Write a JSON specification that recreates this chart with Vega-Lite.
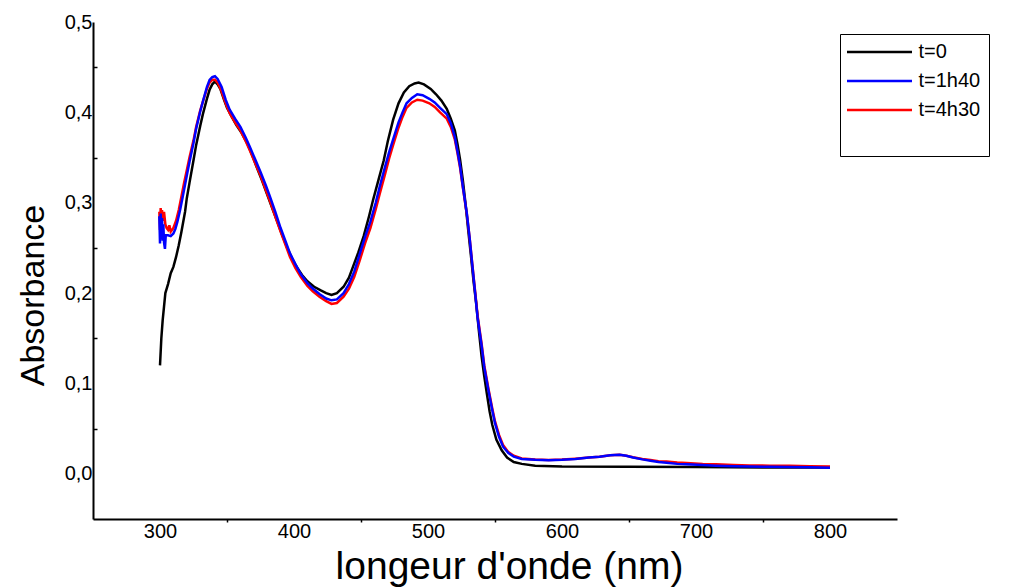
{
  "$schema": "https://vega.github.io/schema/vega-lite/v6.json",
  "width": 804,
  "height": 497,
  "autosize": {"type": "none"},
  "padding": {"left": 93, "top": 22, "right": 114, "bottom": 68},
  "background": "white",
  "config": {
    "view": {"stroke": null},
    "font": "Liberation Sans",
    "axis": {"grid": false, "domainColor": "black", "domainWidth": 2, "labelColor": "black", "titleColor": "black", "labelFont": "Liberation Sans", "titleFont": "Liberation Sans", "titleFontWeight": "normal", "tickColor": "black"}
  },
  "data": {"values": [
    {"l":300,"a":0.120,"s":"t=0"},{"l":301,"a":0.150,"s":"t=0"},{"l":302,"a":0.170,"s":"t=0"},{"l":303,"a":0.185,"s":"t=0"},{"l":304,"a":0.200,"s":"t=0"},{"l":305,"a":0.205,"s":"t=0"},{"l":306,"a":0.210,"s":"t=0"},{"l":308,"a":0.222,"s":"t=0"},{"l":310,"a":0.229,"s":"t=0"},{"l":312,"a":0.240,"s":"t=0"},{"l":314,"a":0.253,"s":"t=0"},{"l":316,"a":0.268,"s":"t=0"},{"l":318.7,"a":0.290,"s":"t=0"},{"l":320,"a":0.305,"s":"t=0"},{"l":322,"a":0.322,"s":"t=0"},{"l":325,"a":0.347,"s":"t=0"},{"l":327,"a":0.364,"s":"t=0"},{"l":330,"a":0.385,"s":"t=0"},{"l":332,"a":0.398,"s":"t=0"},{"l":335,"a":0.415,"s":"t=0"},{"l":337,"a":0.425,"s":"t=0"},{"l":339,"a":0.431,"s":"t=0"},{"l":341,"a":0.434,"s":"t=0"},{"l":343,"a":0.431,"s":"t=0"},{"l":345,"a":0.426,"s":"t=0"},{"l":348,"a":0.413,"s":"t=0"},{"l":350,"a":0.405,"s":"t=0"},{"l":354,"a":0.394,"s":"t=0"},{"l":357,"a":0.386,"s":"t=0"},{"l":361,"a":0.377,"s":"t=0"},{"l":365,"a":0.366,"s":"t=0"},{"l":369,"a":0.352,"s":"t=0"},{"l":372,"a":0.340,"s":"t=0"},{"l":376,"a":0.325,"s":"t=0"},{"l":380,"a":0.309,"s":"t=0"},{"l":384,"a":0.293,"s":"t=0"},{"l":387,"a":0.281,"s":"t=0"},{"l":391,"a":0.265,"s":"t=0"},{"l":395,"a":0.250,"s":"t=0"},{"l":399,"a":0.237,"s":"t=0"},{"l":402,"a":0.229,"s":"t=0"},{"l":406,"a":0.220,"s":"t=0"},{"l":410,"a":0.213,"s":"t=0"},{"l":415,"a":0.207,"s":"t=0"},{"l":420,"a":0.203,"s":"t=0"},{"l":424,"a":0.200,"s":"t=0"},{"l":428,"a":0.198,"s":"t=0"},{"l":432,"a":0.200,"s":"t=0"},{"l":437,"a":0.207,"s":"t=0"},{"l":441,"a":0.217,"s":"t=0"},{"l":444,"a":0.229,"s":"t=0"},{"l":448,"a":0.245,"s":"t=0"},{"l":452,"a":0.263,"s":"t=0"},{"l":456,"a":0.285,"s":"t=0"},{"l":459,"a":0.303,"s":"t=0"},{"l":463,"a":0.325,"s":"t=0"},{"l":467,"a":0.347,"s":"t=0"},{"l":470,"a":0.368,"s":"t=0"},{"l":474,"a":0.392,"s":"t=0"},{"l":478,"a":0.410,"s":"t=0"},{"l":482,"a":0.422,"s":"t=0"},{"l":486,"a":0.429,"s":"t=0"},{"l":490,"a":0.432,"s":"t=0"},{"l":493,"a":0.433,"s":"t=0"},{"l":497,"a":0.431,"s":"t=0"},{"l":502,"a":0.426,"s":"t=0"},{"l":506,"a":0.420,"s":"t=0"},{"l":510,"a":0.413,"s":"t=0"},{"l":514,"a":0.404,"s":"t=0"},{"l":517,"a":0.393,"s":"t=0"},{"l":520,"a":0.380,"s":"t=0"},{"l":522,"a":0.365,"s":"t=0"},{"l":524,"a":0.347,"s":"t=0"},{"l":526,"a":0.325,"s":"t=0"},{"l":528,"a":0.299,"s":"t=0"},{"l":530,"a":0.270,"s":"t=0"},{"l":532,"a":0.242,"s":"t=0"},{"l":534,"a":0.213,"s":"t=0"},{"l":536,"a":0.188,"s":"t=0"},{"l":538,"a":0.158,"s":"t=0"},{"l":540,"a":0.130,"s":"t=0"},{"l":542,"a":0.108,"s":"t=0"},{"l":544,"a":0.088,"s":"t=0"},{"l":546,"a":0.069,"s":"t=0"},{"l":548,"a":0.054,"s":"t=0"},{"l":551,"a":0.038,"s":"t=0"},{"l":555,"a":0.026,"s":"t=0"},{"l":559,"a":0.018,"s":"t=0"},{"l":564,"a":0.013,"s":"t=0"},{"l":570,"a":0.011,"s":"t=0"},{"l":580,"a":0.009,"s":"t=0"},{"l":600,"a":0.008,"s":"t=0"},{"l":650,"a":0.0078,"s":"t=0"},{"l":700,"a":0.0075,"s":"t=0"},{"l":750,"a":0.007,"s":"t=0"},{"l":800,"a":0.007,"s":"t=0"},

    {"l":299.5,"a":0.290,"s":"t=4h30"},{"l":300,"a":0.270,"s":"t=4h30"},{"l":300.5,"a":0.294,"s":"t=4h30"},{"l":301,"a":0.275,"s":"t=4h30"},{"l":301.5,"a":0.292,"s":"t=4h30"},{"l":302,"a":0.280,"s":"t=4h30"},{"l":303,"a":0.290,"s":"t=4h30"},{"l":304,"a":0.276,"s":"t=4h30"},{"l":305,"a":0.272,"s":"t=4h30"},{"l":306,"a":0.270,"s":"t=4h30"},{"l":307,"a":0.275,"s":"t=4h30"},{"l":308,"a":0.268,"s":"t=4h30"},{"l":310,"a":0.272,"s":"t=4h30"},{"l":312,"a":0.280,"s":"t=4h30"},{"l":314,"a":0.292,"s":"t=4h30"},{"l":316,"a":0.307,"s":"t=4h30"},{"l":318,"a":0.322,"s":"t=4h30"},{"l":320,"a":0.336,"s":"t=4h30"},{"l":322,"a":0.350,"s":"t=4h30"},{"l":325,"a":0.369,"s":"t=4h30"},{"l":327,"a":0.384,"s":"t=4h30"},{"l":330,"a":0.402,"s":"t=4h30"},{"l":332,"a":0.412,"s":"t=4h30"},{"l":335,"a":0.426,"s":"t=4h30"},{"l":337,"a":0.433,"s":"t=4h30"},{"l":339,"a":0.436,"s":"t=4h30"},{"l":341,"a":0.436,"s":"t=4h30"},{"l":343,"a":0.433,"s":"t=4h30"},{"l":346,"a":0.423,"s":"t=4h30"},{"l":349,"a":0.410,"s":"t=4h30"},{"l":352,"a":0.399,"s":"t=4h30"},{"l":356,"a":0.389,"s":"t=4h30"},{"l":360,"a":0.380,"s":"t=4h30"},{"l":364,"a":0.368,"s":"t=4h30"},{"l":367,"a":0.358,"s":"t=4h30"},{"l":371,"a":0.344,"s":"t=4h30"},{"l":375,"a":0.330,"s":"t=4h30"},{"l":379,"a":0.314,"s":"t=4h30"},{"l":382,"a":0.302,"s":"t=4h30"},{"l":386,"a":0.285,"s":"t=4h30"},{"l":390,"a":0.268,"s":"t=4h30"},{"l":394,"a":0.252,"s":"t=4h30"},{"l":397,"a":0.240,"s":"t=4h30"},{"l":401,"a":0.228,"s":"t=4h30"},{"l":405,"a":0.218,"s":"t=4h30"},{"l":410,"a":0.208,"s":"t=4h30"},{"l":414,"a":0.202,"s":"t=4h30"},{"l":419,"a":0.196,"s":"t=4h30"},{"l":424,"a":0.191,"s":"t=4h30"},{"l":428,"a":0.188,"s":"t=4h30"},{"l":432,"a":0.189,"s":"t=4h30"},{"l":437,"a":0.196,"s":"t=4h30"},{"l":441,"a":0.205,"s":"t=4h30"},{"l":445,"a":0.218,"s":"t=4h30"},{"l":449,"a":0.236,"s":"t=4h30"},{"l":453,"a":0.255,"s":"t=4h30"},{"l":457,"a":0.272,"s":"t=4h30"},{"l":461,"a":0.293,"s":"t=4h30"},{"l":464,"a":0.310,"s":"t=4h30"},{"l":468,"a":0.332,"s":"t=4h30"},{"l":471,"a":0.349,"s":"t=4h30"},{"l":474,"a":0.364,"s":"t=4h30"},{"l":478,"a":0.383,"s":"t=4h30"},{"l":481,"a":0.395,"s":"t=4h30"},{"l":484,"a":0.405,"s":"t=4h30"},{"l":488,"a":0.411,"s":"t=4h30"},{"l":492,"a":0.414,"s":"t=4h30"},{"l":496,"a":0.413,"s":"t=4h30"},{"l":501,"a":0.410,"s":"t=4h30"},{"l":505,"a":0.406,"s":"t=4h30"},{"l":509,"a":0.400,"s":"t=4h30"},{"l":514,"a":0.393,"s":"t=4h30"},{"l":517,"a":0.384,"s":"t=4h30"},{"l":520,"a":0.370,"s":"t=4h30"},{"l":522,"a":0.355,"s":"t=4h30"},{"l":524,"a":0.338,"s":"t=4h30"},{"l":526,"a":0.317,"s":"t=4h30"},{"l":529,"a":0.287,"s":"t=4h30"},{"l":531,"a":0.262,"s":"t=4h30"},{"l":533,"a":0.233,"s":"t=4h30"},{"l":535,"a":0.204,"s":"t=4h30"},{"l":537,"a":0.175,"s":"t=4h30"},{"l":540,"a":0.144,"s":"t=4h30"},{"l":542,"a":0.120,"s":"t=4h30"},{"l":545,"a":0.095,"s":"t=4h30"},{"l":548,"a":0.072,"s":"t=4h30"},{"l":550,"a":0.058,"s":"t=4h30"},{"l":553,"a":0.043,"s":"t=4h30"},{"l":556,"a":0.032,"s":"t=4h30"},{"l":560,"a":0.024,"s":"t=4h30"},{"l":564,"a":0.020,"s":"t=4h30"},{"l":570,"a":0.017,"s":"t=4h30"},{"l":580,"a":0.0158,"s":"t=4h30"},{"l":590,"a":0.0152,"s":"t=4h30"},{"l":600,"a":0.0158,"s":"t=4h30"},{"l":610,"a":0.0168,"s":"t=4h30"},{"l":620,"a":0.018,"s":"t=4h30"},{"l":628,"a":0.019,"s":"t=4h30"},{"l":636,"a":0.0205,"s":"t=4h30"},{"l":643,"a":0.021,"s":"t=4h30"},{"l":648,"a":0.020,"s":"t=4h30"},{"l":653,"a":0.0183,"s":"t=4h30"},{"l":660,"a":0.0165,"s":"t=4h30"},{"l":666,"a":0.0152,"s":"t=4h30"},{"l":672,"a":0.014,"s":"t=4h30"},{"l":678,"a":0.0135,"s":"t=4h30"},{"l":686,"a":0.0125,"s":"t=4h30"},{"l":693,"a":0.012,"s":"t=4h30"},{"l":705,"a":0.011,"s":"t=4h30"},{"l":715,"a":0.0105,"s":"t=4h30"},{"l":728,"a":0.0098,"s":"t=4h30"},{"l":740,"a":0.0093,"s":"t=4h30"},{"l":755,"a":0.009,"s":"t=4h30"},{"l":770,"a":0.0088,"s":"t=4h30"},{"l":785,"a":0.0085,"s":"t=4h30"},{"l":800,"a":0.0082,"s":"t=4h30"},

    {"l":299.5,"a":0.285,"s":"t=1h40"},{"l":300,"a":0.255,"s":"t=1h40"},{"l":300.5,"a":0.288,"s":"t=1h40"},{"l":301,"a":0.262,"s":"t=1h40"},{"l":301.5,"a":0.283,"s":"t=1h40"},{"l":302,"a":0.258,"s":"t=1h40"},{"l":302.5,"a":0.276,"s":"t=1h40"},{"l":303,"a":0.256,"s":"t=1h40"},{"l":303.7,"a":0.249,"s":"t=1h40"},{"l":304.3,"a":0.264,"s":"t=1h40"},{"l":306,"a":0.264,"s":"t=1h40"},{"l":308,"a":0.263,"s":"t=1h40"},{"l":310,"a":0.266,"s":"t=1h40"},{"l":311.5,"a":0.271,"s":"t=1h40"},{"l":313,"a":0.279,"s":"t=1h40"},{"l":315,"a":0.292,"s":"t=1h40"},{"l":317,"a":0.307,"s":"t=1h40"},{"l":320,"a":0.330,"s":"t=1h40"},{"l":322,"a":0.345,"s":"t=1h40"},{"l":325,"a":0.366,"s":"t=1h40"},{"l":327,"a":0.382,"s":"t=1h40"},{"l":330,"a":0.401,"s":"t=1h40"},{"l":332,"a":0.412,"s":"t=1h40"},{"l":335,"a":0.428,"s":"t=1h40"},{"l":337,"a":0.436,"s":"t=1h40"},{"l":339,"a":0.439,"s":"t=1h40"},{"l":341,"a":0.440,"s":"t=1h40"},{"l":343,"a":0.437,"s":"t=1h40"},{"l":346,"a":0.428,"s":"t=1h40"},{"l":349,"a":0.414,"s":"t=1h40"},{"l":352,"a":0.403,"s":"t=1h40"},{"l":356,"a":0.393,"s":"t=1h40"},{"l":360,"a":0.384,"s":"t=1h40"},{"l":364,"a":0.372,"s":"t=1h40"},{"l":367,"a":0.362,"s":"t=1h40"},{"l":371,"a":0.348,"s":"t=1h40"},{"l":375,"a":0.334,"s":"t=1h40"},{"l":379,"a":0.319,"s":"t=1h40"},{"l":382,"a":0.307,"s":"t=1h40"},{"l":386,"a":0.290,"s":"t=1h40"},{"l":390,"a":0.272,"s":"t=1h40"},{"l":394,"a":0.256,"s":"t=1h40"},{"l":397,"a":0.244,"s":"t=1h40"},{"l":401,"a":0.232,"s":"t=1h40"},{"l":405,"a":0.221,"s":"t=1h40"},{"l":410,"a":0.211,"s":"t=1h40"},{"l":414,"a":0.205,"s":"t=1h40"},{"l":419,"a":0.199,"s":"t=1h40"},{"l":424,"a":0.194,"s":"t=1h40"},{"l":428,"a":0.192,"s":"t=1h40"},{"l":432,"a":0.193,"s":"t=1h40"},{"l":437,"a":0.200,"s":"t=1h40"},{"l":441,"a":0.210,"s":"t=1h40"},{"l":445,"a":0.224,"s":"t=1h40"},{"l":449,"a":0.243,"s":"t=1h40"},{"l":453,"a":0.262,"s":"t=1h40"},{"l":457,"a":0.279,"s":"t=1h40"},{"l":461,"a":0.300,"s":"t=1h40"},{"l":464,"a":0.318,"s":"t=1h40"},{"l":468,"a":0.340,"s":"t=1h40"},{"l":471,"a":0.356,"s":"t=1h40"},{"l":474,"a":0.370,"s":"t=1h40"},{"l":478,"a":0.389,"s":"t=1h40"},{"l":481,"a":0.400,"s":"t=1h40"},{"l":484,"a":0.410,"s":"t=1h40"},{"l":488,"a":0.416,"s":"t=1h40"},{"l":492,"a":0.420,"s":"t=1h40"},{"l":496,"a":0.419,"s":"t=1h40"},{"l":501,"a":0.415,"s":"t=1h40"},{"l":505,"a":0.411,"s":"t=1h40"},{"l":509,"a":0.405,"s":"t=1h40"},{"l":514,"a":0.398,"s":"t=1h40"},{"l":517,"a":0.388,"s":"t=1h40"},{"l":520,"a":0.373,"s":"t=1h40"},{"l":522,"a":0.357,"s":"t=1h40"},{"l":524,"a":0.340,"s":"t=1h40"},{"l":526,"a":0.318,"s":"t=1h40"},{"l":529,"a":0.288,"s":"t=1h40"},{"l":531,"a":0.262,"s":"t=1h40"},{"l":533,"a":0.232,"s":"t=1h40"},{"l":535,"a":0.203,"s":"t=1h40"},{"l":537,"a":0.173,"s":"t=1h40"},{"l":540,"a":0.142,"s":"t=1h40"},{"l":542,"a":0.118,"s":"t=1h40"},{"l":545,"a":0.093,"s":"t=1h40"},{"l":548,"a":0.070,"s":"t=1h40"},{"l":550,"a":0.056,"s":"t=1h40"},{"l":553,"a":0.041,"s":"t=1h40"},{"l":556,"a":0.030,"s":"t=1h40"},{"l":560,"a":0.023,"s":"t=1h40"},{"l":564,"a":0.019,"s":"t=1h40"},{"l":570,"a":0.0165,"s":"t=1h40"},{"l":580,"a":0.0155,"s":"t=1h40"},{"l":590,"a":0.015,"s":"t=1h40"},{"l":600,"a":0.0155,"s":"t=1h40"},{"l":610,"a":0.0165,"s":"t=1h40"},{"l":620,"a":0.018,"s":"t=1h40"},{"l":628,"a":0.019,"s":"t=1h40"},{"l":636,"a":0.0205,"s":"t=1h40"},{"l":643,"a":0.021,"s":"t=1h40"},{"l":648,"a":0.020,"s":"t=1h40"},{"l":653,"a":0.018,"s":"t=1h40"},{"l":660,"a":0.016,"s":"t=1h40"},{"l":666,"a":0.0145,"s":"t=1h40"},{"l":672,"a":0.013,"s":"t=1h40"},{"l":678,"a":0.0123,"s":"t=1h40"},{"l":686,"a":0.011,"s":"t=1h40"},{"l":693,"a":0.0105,"s":"t=1h40"},{"l":705,"a":0.0097,"s":"t=1h40"},{"l":715,"a":0.009,"s":"t=1h40"},{"l":728,"a":0.0085,"s":"t=1h40"},{"l":740,"a":0.008,"s":"t=1h40"},{"l":755,"a":0.0078,"s":"t=1h40"},{"l":770,"a":0.0075,"s":"t=1h40"},{"l":785,"a":0.0072,"s":"t=1h40"},{"l":800,"a":0.0068,"s":"t=1h40"}
  ]},
  "mark": {"type": "line", "strokeWidth": 2.5, "interpolate": "linear"},
  "encoding": {
    "x": {"field": "l", "type": "quantitative", "scale": {"domain": [250, 850], "nice": false, "zero": false},
          "axis": {"values": [300, 350, 400, 450, 500, 550, 600, 650, 700, 750, 800],
                   "labelExpr": "datum.value % 100 == 0 ? datum.label : ''",
                   "ticks": true, "tickSize": 3, "tickWidth": 1.5,
                   "tickOpacity": {"condition": {"test": "datum.value % 100 == 0", "value": 0}, "value": 1},
                   "labelPadding": -1, "labelFontSize": 20, "labelFlush": false, "labelBaseline": "top", "labelOverlap": false,
                   "title": "longeur d'onde (nm)", "titleFontSize": 39, "titleAnchor": "start", "titleAlign": "center", "titleX": 416, "titleY": 59, "titleBaseline": "alphabetic"}},
    "y": {"field": "a", "type": "quantitative", "scale": {"domain": [-0.05, 0.5], "nice": false, "zero": false},
          "axis": {"values": [0, 0.05, 0.1, 0.15, 0.2, 0.25, 0.3, 0.35, 0.4, 0.45, 0.5],
                   "ticks": true, "tickSize": -4, "tickWidth": 1.5,
                   "tickOpacity": {"condition": {"test": "abs(datum.value * 10 - round(datum.value * 10)) < 0.01", "value": 0}, "value": 1},
                   "labelPadding": 5, "labelFontSize": 20, "labelFlush": false, "labelOverlap": false,
                   "labelExpr": "abs(datum.value * 10 - round(datum.value * 10)) < 0.01 ? replace(format(datum.value, '.1f'), '.', ',') : ''",
                   "title": "Absorbance", "titleFontSize": 34, "titleAngle": -90, "titleAlign": "center", "titleBaseline": "alphabetic", "titleX": -50, "titleY": 273}},
    "color": {"field": "s", "type": "nominal",
              "scale": {"domain": ["t=0", "t=1h40", "t=4h30"], "range": ["#000000", "#0000ff", "#ff0000"]},
              "legend": {"orient": "none", "legendX": 747, "legendY": 12,
                         "title": "\u00a0\u00a0\u00a0\u00a0\u00a0\u00a0\u00a0\u00a0\u00a0\u00a0\u00a0\u00a0\u00a0\u00a0\u00a0\u00a0\u00a0\u00a0\u00a0\u00a0\u00a0\u00a0\u00a0\u00a0\u00a0\u00a0\u00a0\u00a0\u00a0\u00a0\u00a0\u00a0\u00a0\u00a0\u00a0", "titleOrient": "bottom", "titleFontSize": 20, "titlePadding": 8, "titleLimit": 400,
                         "strokeColor": "black", "fillColor": "white", "padding": 8,
                         "symbolType": "M-6.5,0H6.5", "symbolSize": 100, "symbolStrokeWidth": 2.5, "symbolOffset": 21.5,
                         "labelOffset": 29, "labelFontSize": 20, "labelColor": "black", "labelFont": "Liberation Sans", "rowPadding": 9}}
  }
}
